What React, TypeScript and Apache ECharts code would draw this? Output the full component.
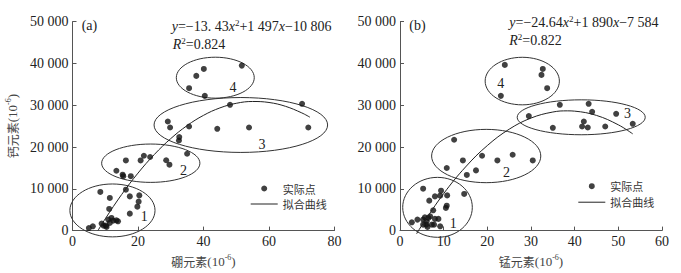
import React, { useEffect, useRef } from "react";
import * as echarts from "echarts";

// ---- data ----
const leftPoints: number[][] = [
  [5.0, 600], [6.2, 1030], [8.5, 9250], [11.4, 7810], [11.2, 5180], [8.9, 1670],
  [10.4, 880], [9.5, 1190], [10.9, 2630], [11.9, 3030], [12.4, 2390], [13.4, 2460],
  [13.9, 2220], [11.4, 1840], [10.2, 1190], [16.3, 9790], [17.5, 8190], [20.4, 8430],
  [20.2, 6930], [19.8, 5730], [17.5, 4060],
  [13.4, 14330], [15.3, 13380], [15.5, 13020], [17.8, 13020], [16.3, 16790], [20.8, 16790],
  [21.8, 17920], [23.7, 17610], [28.6, 16840], [29.6, 15770], [35.0, 18400],
  [32.6, 22390], [32.5, 21570], [29.1, 26110], [29.8, 24680], [35.6, 24920], [44.2, 24370],
  [53.9, 24680], [72.0, 24680], [48.1, 30100], [70.1, 30340],
  [40.1, 38700], [37.8, 37030], [35.6, 34090], [40.4, 32250], [51.7, 39490],
];

const rightPoints: number[][] = [
  [2.7, 1980], [4.0, 2630], [5.3, 10030], [6.7, 7170], [8.0, 8190], [9.2, 8360],
  [9.4, 9560], [10.8, 8430], [10.5, 5420], [10.7, 5970], [14.7, 8770], [5.3, 2630],
  [5.7, 3180], [6.1, 2220], [6.5, 3030], [6.9, 3420], [7.6, 4850], [6.0, 1430],
  [6.3, 880], [7.3, 1430], [7.8, 1430], [8.0, 2800], [8.8, 2800], [9.2, 1030], [5.3, 1430],
  [10.7, 14980], [12.4, 21740], [14.4, 16800], [15.3, 13330], [17.4, 14410], [18.8, 17920],
  [22.3, 16800], [25.8, 18160], [30.4, 16800],
  [29.5, 27400], [36.6, 30100], [43.2, 30340], [44.0, 28430], [49.5, 27950], [53.3, 25560],
  [35.0, 24610], [42.1, 26110], [41.7, 24920], [43.0, 24680], [47.0, 24920],
  [24.0, 39660], [32.7, 38700], [32.4, 37270], [23.1, 32250], [33.7, 34090],
];

// fitted curves
const leftFit: number[][] = [
  [7.8, 50], [10, 2821], [15, 8627], [20, 13762], [25, 18225], [30, 22017], [35, 25137],
  [40, 27586], [45, 29363], [50, 30469], [55, 30903], [60, 30666], [65, 29757],
  [70, 28177], [72.5, 27136],
];
const rightFit: number[][] = [
  [3.8, -758], [5, 1250], [10, 8852], [15, 15222], [20, 20360], [25, 24266], [30, 26940],
  [35, 28382], [38.35, 28660], [40, 28592], [45, 27570], [50, 25316], [53.3, 23153],
];

// group ellipses: [cx, cy, rx, ry]
const leftEllipses: number[][] = [
  [12.2, 4830, 13.0, 6330],
  [23.9, 16130, 15.0, 4590],
  [51.4, 25280, 26.5, 6570],
  [43.6, 36600, 11.9, 4900],
];
const rightEllipses: number[][] = [
  [8.59, 5570, 7.97, 7170],
  [19.74, 17850, 12.5, 6380],
  [41.5, 27120, 14.66, 4180],
  [28.0, 35790, 8.5, 5690],
];
// group labels: [x, y]
const leftGroupLabelPos: number[][] = [[21.9, 3270], [33.9, 14330], [57.9, 20550], [49.0, 34330]];
const rightGroupLabelPos: number[][] = [[12.2, 1670], [24.4, 14020], [52.1, 27950], [23.1, 35290]];
const groupLabels = ["1", "2", "3", "4"];

const yTicks = { min: 0, max: 50000, interval: 10000 };
const leftXTicks = { min: 0, max: 80, interval: 20 };
const rightXTicks = { min: 0, max: 60, interval: 10 };

const SERIF = "'Liberation Serif', 'Times New Roman', serif";
const CJK = "'Noto Sans CJK SC', sans-serif";

const fmt = (v: number) => String(v).replace(/\B(?=(\d{3})+(?!\d))/g, " ");

const axisCommon = {
  axisLine: { show: true, lineStyle: { color: "#555", width: 1 } },
  axisTick: { show: true, inside: true, length: 4, lineStyle: { color: "#555" } },
  splitLine: { show: false },
  axisLabel: { color: "#222", fontFamily: SERIF, fontSize: 14, margin: 4 },
};

const nameRich = {
  c: { fontFamily: CJK, fontSize: 12, color: "#444", lineHeight: 16 },
  n: { fontFamily: SERIF, fontSize: 13, color: "#444", lineHeight: 16 },
  s: { fontFamily: SERIF, fontSize: 8, color: "#444", verticalAlign: "top", lineHeight: 8 },
};

function ellipseSeries(data: number[][], idx: number) {
  return {
    type: "custom",
    xAxisIndex: idx,
    yAxisIndex: idx,
    silent: true,
    clip: false,
    data,
    encode: { x: 0, y: 1 },
    renderItem: (params: any, api: any) => {
      const c = api.coord([api.value(0), api.value(1)]);
      const s = api.size([api.value(2), api.value(3)]);
      return {
        type: "ellipse",
        shape: { cx: c[0], cy: c[1], rx: s[0], ry: s[1] },
        style: { fill: "none", stroke: "#333", lineWidth: 1 },
      };
    },
  };
}

function labelSeries(data: number[][], idx: number) {
  return {
    type: "custom",
    xAxisIndex: idx,
    yAxisIndex: idx,
    silent: true,
    clip: false,
    data,
    encode: { x: 0, y: 1 },
    renderItem: (params: any, api: any) => {
      const c = api.coord([api.value(0), api.value(1)]);
      return {
        type: "text",
        x: c[0],
        y: c[1],
        style: {
          text: groupLabels[params.dataIndex],
          fontFamily: SERIF,
          fontSize: 14,
          fill: "#222",
          align: "center",
          verticalAlign: "middle",
          textAlign: "center",
          textVerticalAlign: "middle",
        },
      };
    },
  };
}

const eqRich = {
  i: { fontFamily: SERIF, fontSize: 14, fontStyle: "italic", fill: "#222", color: "#222", lineHeight: 16 },
  s: { fontFamily: SERIF, fontSize: 9, fill: "#222", color: "#222", verticalAlign: "top", lineHeight: 9 },
};

function eqText(x: number, y: number, text: string) {
  return {
    type: "text",
    x,
    y,
    silent: true,
    style: {
      text,
      rich: eqRich,
      fontFamily: SERIF,
      fontSize: 14,
      fill: "#222",
      verticalAlign: "middle",
      textVerticalAlign: "middle",
    },
  };
}

export default function App() {
  const ref = useRef<HTMLDivElement>(null);
  useEffect(() => {
    if (!ref.current) return;
    const chart = echarts.init(ref.current, undefined, { renderer: "svg" });
    const legendCommon = {
      orient: "vertical",
      padding: 0,
      itemWidth: 27,
      itemHeight: 6,
      textStyle: { fontFamily: CJK, fontSize: 11, color: "#333", lineHeight: 12 },
      data: [
        { name: "实际点", icon: "circle" },
        { name: "拟合曲线", icon: "path://M0,0 L27,0 L27,1 L0,1 Z", itemStyle: { color: "#222" } },
      ],
      selectedMode: false,
    };
    chart.setOption({
      animation: false,
      backgroundColor: "#fff",
      grid: [
        { left: 72.5, right: 346.5, top: 21.7, bottom: 42 },
        { left: 400, right: 19, top: 21.7, bottom: 42 },
      ],
      legend: [
        { ...legendCommon, left: 250.7, top: 182.5, itemGap: 3.5 },
        { ...legendCommon, left: 578.3, top: 180.2, itemGap: 4 },
      ],
      xAxis: [
        {
          type: "value", gridIndex: 0, ...leftXTicks, ...axisCommon,
          name: "{c|硼元素}{n|(10}{s|-6}{n|)}", nameLocation: "middle", nameGap: 19,
          nameTextStyle: { rich: nameRich },
        },
        {
          type: "value", gridIndex: 1, ...rightXTicks, ...axisCommon,
          name: "{c|锰元素}{n|(10}{s|-6}{n|)}", nameLocation: "middle", nameGap: 19,
          nameTextStyle: { rich: nameRich },
        },
      ],
      yAxis: [
        {
          type: "value", gridIndex: 0, ...yTicks, ...axisCommon,
          axisLabel: { ...axisCommon.axisLabel, formatter: fmt },
          name: "{c|钙元素}{n|(10}{s|-6}{n|)}", nameLocation: "middle", nameGap: 52, nameRotate: 90,
          nameTextStyle: { rich: nameRich },
        },
        {
          type: "value", gridIndex: 1, ...yTicks, ...axisCommon,
          axisLabel: { ...axisCommon.axisLabel, formatter: fmt },
        },
      ],
      series: [
        {
          name: "实际点", type: "scatter", xAxisIndex: 0, yAxisIndex: 0, data: leftPoints,
          symbolSize: 6, itemStyle: { color: "#111" }, silent: true,
        },
        {
          name: "拟合曲线", type: "line", xAxisIndex: 0, yAxisIndex: 0, data: leftFit,
          smooth: 0.4, symbol: "none", showSymbol: false, clip: false,
          lineStyle: { color: "#222", width: 1 }, itemStyle: { color: "#222" }, silent: true,
        },
        {
          name: "实际点", type: "scatter", xAxisIndex: 1, yAxisIndex: 1, data: rightPoints,
          symbolSize: 6, itemStyle: { color: "#111" }, silent: true,
        },
        {
          name: "拟合曲线", type: "line", xAxisIndex: 1, yAxisIndex: 1, data: rightFit,
          smooth: 0.4, symbol: "none", showSymbol: false, clip: false,
          lineStyle: { color: "#222", width: 1 }, itemStyle: { color: "#222" }, silent: true,
        },
        ellipseSeries(leftEllipses, 0),
        ellipseSeries(rightEllipses, 1),
        labelSeries(leftGroupLabelPos, 0),
        labelSeries(rightGroupLabelPos, 1),
      ],
      graphic: [
        eqText(171.7, 26, "{i|y}=−13. 43{i|x}{s|2}+1 497{i|x}−10 806"),
        eqText(172.7, 44.3, "{i|R}{s|2}=0.824"),
        eqText(509.3, 22.7, "{i|y}=−24.64{i|x}{s|2}+1 890{i|x}−7 584"),
        eqText(509.3, 40, "{i|R}{s|2}=0.822"),
        eqText(81.7, 25, "(a)"),
        eqText(409.3, 25, "(b)"),
      ],
    });
    return () => chart.dispose();
  }, []);
  return (
    <div
      ref={ref}
      style={{ position: "fixed", left: 0, top: 0, width: 681, height: 273, background: "#fff" }}
    />
  );
}
